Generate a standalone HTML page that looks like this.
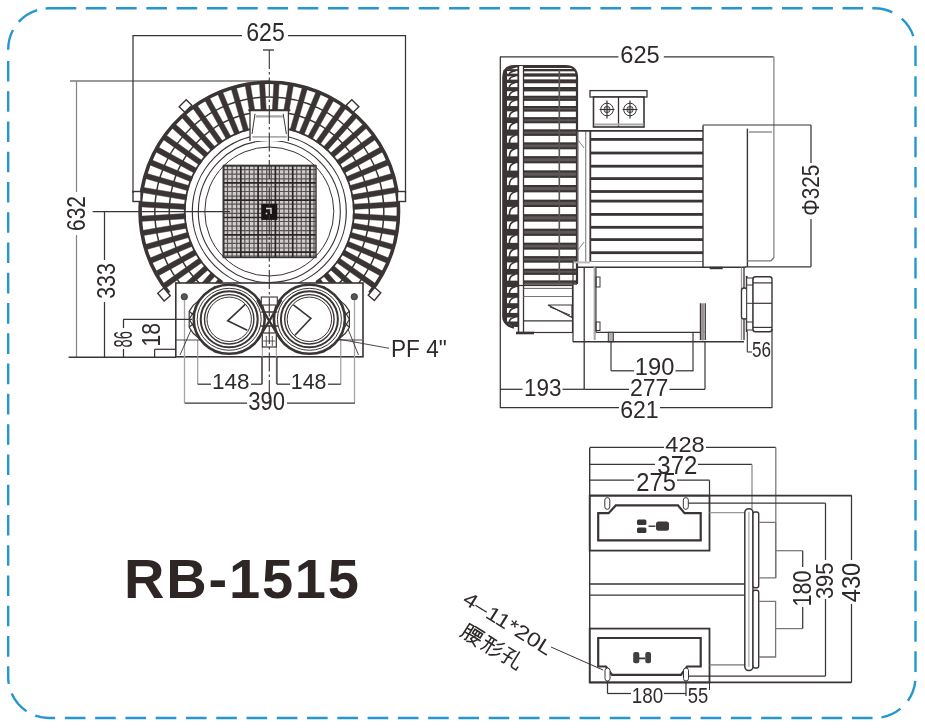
<!DOCTYPE html>
<html><head><meta charset="utf-8"><style>
html,body{margin:0;padding:0;background:#fff;}
svg{display:block;will-change:transform;}
text{font-family:"Liberation Sans",sans-serif;}
</style></head><body>
<svg width="925" height="728" viewBox="0 0 925 728">
<rect width="925" height="728" fill="#fff"/>
<path d="M8.20,49.80 A41.0,41.0 0 0 1 13.00,30.05 M18.73,21.87 A41.0,41.0 0 0 1 37.21,10.09 M45.63,8.46 A41.0,41.0 0 0 1 49.20,8.30 L76.3,8.3 M85.80,8.3 H106.40 M116.07,8.3 H136.67 M146.34,8.3 H166.94 M176.61,8.3 H197.21 M206.88,8.3 H227.48 M237.15,8.3 H257.75 M267.42,8.3 H288.02 M297.69,8.3 H318.29 M327.96,8.3 H348.56 M358.23,8.3 H378.83 M388.50,8.3 H409.10 M418.77,8.3 H439.37 M449.04,8.3 H469.64 M479.31,8.3 H499.91 M509.58,8.3 H530.18 M539.85,8.3 H560.45 M570.12,8.3 H590.72 M600.39,8.3 H620.99 M630.66,8.3 H651.26 M660.93,8.3 H681.53 M691.20,8.3 H711.80 M721.47,8.3 H742.07 M751.74,8.3 H772.34 M782.01,8.3 H802.61 M812.28,8.3 H832.88 M842.55,8.3 H863.15 M872.3,8.3 L874.50,8.30 A41.0,41.0 0 0 1 892.28,12.36 M901.77,18.69 A41.0,41.0 0 0 1 913.31,36.09 M915.34,45.73 A41.0,41.0 0 0 1 915.50,49.30 L915.5,66 M915.5,76.20 V96.80 M915.5,106.47 V127.07 M915.5,136.74 V157.34 M915.5,167.01 V187.61 M915.5,197.28 V217.88 M915.5,227.55 V248.15 M915.5,257.82 V278.42 M915.5,288.09 V308.69 M915.5,318.36 V338.96 M915.5,348.63 V369.23 M915.5,378.90 V399.50 M915.5,409.17 V429.77 M915.5,439.44 V460.04 M915.5,469.71 V490.31 M915.5,499.98 V520.58 M915.5,530.25 V550.85 M915.5,560.52 V581.12 M915.5,590.79 V611.39 M915.5,621.06 V641.66 M915.5,651.33 V671.93 M915.31,680.93 A41.0,41.0 0 0 1 907.92,700.75 M900.52,708.68 A41.0,41.0 0 0 1 881.48,717.40 M64.90,718.0 H85.50 M95.17,718.0 H115.77 M125.44,718.0 H146.04 M155.71,718.0 H176.31 M185.98,718.0 H206.58 M216.25,718.0 H236.85 M246.52,718.0 H267.12 M276.79,718.0 H297.39 M307.06,718.0 H327.66 M337.33,718.0 H357.93 M367.60,718.0 H388.20 M397.87,718.0 H418.47 M428.14,718.0 H448.74 M458.41,718.0 H479.01 M488.68,718.0 H509.28 M518.95,718.0 H539.55 M549.22,718.0 H569.82 M579.49,718.0 H600.09 M609.76,718.0 H630.36 M640.03,718.0 H660.63 M670.30,718.0 H690.90 M700.57,718.0 H721.17 M730.84,718.0 H751.44 M761.11,718.0 H781.71 M791.38,718.0 H811.98 M821.65,718.0 H842.25 M851.92,718.0 H872.52 M55.1,718.0 L49.20,718.00 A41.0,41.0 0 0 1 35.31,715.58 M26.51,711.15 A41.0,41.0 0 0 1 11.66,693.48 M8.2,60.90 V81.50 M8.2,91.17 V111.77 M8.2,121.44 V142.04 M8.2,151.71 V172.31 M8.2,181.98 V202.58 M8.2,212.25 V232.85 M8.2,242.52 V263.12 M8.2,272.79 V293.39 M8.2,303.06 V323.66 M8.2,333.33 V353.93 M8.2,363.60 V384.20 M8.2,393.87 V414.47 M8.2,424.14 V444.74 M8.2,454.41 V475.01 M8.2,484.68 V505.28 M8.2,514.95 V535.55 M8.2,545.22 V565.82 M8.2,575.49 V596.09 M8.2,605.76 V626.36 M8.2,636.03 V656.63 M8.2,666.30 V677.00 M8.20,677.00 A41.0,41.0 0 0 0 8.77,683.84" fill="none" stroke="#2596d0" stroke-width="2.4" stroke-linecap="butt"/>
<defs><clipPath id="ringclip"><path d="M0,0 H925 V290 H362.5 V400 H175.5 V290 H0 Z"/></clipPath></defs>
<g clip-path="url(#ringclip)">
<path d="M353.27,209.39 L399.22,206.81 L398.92,201.62 L352.98,204.20Z M352.51,200.00 L397.87,192.29 L397.00,187.17 L351.64,194.87Z M350.70,190.75 L394.91,178.02 L393.47,173.02 L349.26,185.76Z M347.86,181.77 L390.38,164.16 L388.39,159.36 L345.87,176.97Z M344.04,173.16 L384.31,150.90 L381.80,146.35 L341.53,168.61Z M339.28,165.04 L376.81,138.41 L373.80,134.17 L336.27,160.79Z M333.64,157.49 L367.95,126.83 L364.48,122.95 L330.17,153.62Z M327.18,150.63 L357.85,116.32 L353.97,112.85 L323.31,147.16Z M320.01,144.53 L346.63,107.00 L342.39,103.99 L315.76,141.52Z M312.19,139.27 L334.45,99.00 L329.90,96.49 L307.64,136.76Z M303.83,134.93 L321.44,92.41 L316.64,90.42 L299.03,132.94Z M295.04,131.54 L307.78,87.33 L302.78,85.89 L290.05,130.10Z M288.86,111.90 L293.63,83.80 L288.51,82.93 L283.73,111.03Z M277.58,110.34 L279.18,81.88 L273.99,81.58 L272.39,110.05Z M266.21,110.05 L264.61,81.58 L259.42,81.88 L261.02,110.34Z M254.87,111.03 L250.09,82.93 L244.97,83.80 L249.74,111.90Z M248.55,130.10 L235.82,85.89 L230.82,87.33 L243.56,131.54Z M239.57,132.94 L221.96,90.42 L217.16,92.41 L234.77,134.93Z M230.96,136.76 L208.70,96.49 L204.15,99.00 L226.41,139.27Z M222.84,141.52 L196.21,103.99 L191.97,107.00 L218.59,144.53Z M215.29,147.16 L184.63,112.85 L180.75,116.32 L211.42,150.63Z M208.43,153.62 L174.12,122.95 L170.65,126.83 L204.96,157.49Z M202.33,160.79 L164.80,134.17 L161.79,138.41 L199.32,165.04Z M197.07,168.61 L156.80,146.35 L154.29,150.90 L194.56,173.16Z M192.73,176.97 L150.21,159.36 L148.22,164.16 L190.74,181.77Z M189.34,185.76 L145.13,173.02 L143.69,178.02 L187.90,190.75Z M186.96,194.87 L141.60,187.17 L140.73,192.29 L186.09,200.00Z M185.62,204.20 L139.68,201.62 L139.38,206.81 L185.33,209.39Z M185.33,213.61 L139.38,216.19 L139.68,221.38 L185.62,218.80Z M186.09,223.00 L140.73,230.71 L141.60,235.83 L186.96,228.13Z M187.90,232.25 L143.69,244.98 L145.13,249.98 L189.34,237.24Z M190.74,241.23 L148.22,258.84 L150.21,263.64 L192.73,246.03Z M194.56,249.84 L154.29,272.10 L156.80,276.65 L197.07,254.39Z M199.32,257.96 L161.79,284.59 L164.80,288.83 L202.33,262.21Z M204.96,265.51 L170.65,296.17 L174.12,300.05 L208.43,269.38Z M211.42,272.37 L180.75,306.68 L184.63,310.15 L215.29,275.84Z M218.59,278.47 L191.97,316.00 L196.21,319.01 L222.84,281.48Z M315.76,281.48 L342.39,319.01 L346.63,316.00 L320.01,278.47Z M323.31,275.84 L353.97,310.15 L357.85,306.68 L327.18,272.37Z M330.17,269.38 L364.48,300.05 L367.95,296.17 L333.64,265.51Z M336.27,262.21 L373.80,288.83 L376.81,284.59 L339.28,257.96Z M341.53,254.39 L381.80,276.65 L384.31,272.10 L344.04,249.84Z M345.87,246.03 L388.39,263.64 L390.38,258.84 L347.86,241.23Z M349.26,237.24 L393.47,249.98 L394.91,244.98 L350.70,232.25Z M351.64,228.13 L397.00,235.83 L397.87,230.71 L352.51,223.00Z M352.98,218.80 L398.92,221.38 L399.22,216.19 L353.27,213.61Z" fill="#3a3434" stroke="#3a3434" stroke-width="0.5" />
<path d="M333.33,306.42 A114.5,114.5 0 1 0 205.27,306.42" fill="none" stroke="#3a3434" stroke-width="1.5" />
<path d="M325.22,294.40 A100,100 0 0 0 286.66,113.02" fill="none" stroke="#3a3434" stroke-width="1.5" />
<path d="M251.94,113.02 A100,100 0 0 0 213.38,294.40" fill="none" stroke="#3a3434" stroke-width="1.5" />
<path d="M316.55,281.55 A84.5,84.5 0 0 0 283.97,128.28" fill="none" stroke="#3a3434" stroke-width="1.8" />
<path d="M254.63,128.28 A84.5,84.5 0 0 0 222.05,281.55" fill="none" stroke="#3a3434" stroke-width="1.8" />
</g>
<path d="M369.71,292.81 A129.2,129.2 0 1 0 168.89,292.81" fill="none" stroke="#3a3434" stroke-width="3.6" />
<circle cx="269.30" cy="211.50" r="77.00" fill="none" stroke="#3a3434" stroke-width="1.2" />
<circle cx="269.30" cy="211.50" r="71.00" fill="none" stroke="#3a3434" stroke-width="1.1" />
<circle cx="269.30" cy="211.50" r="64.50" fill="none" stroke="#3a3434" stroke-width="1.0" />
<path d="M250.0,141 L250.0,110.3 L288.40000000000003,110.3 L288.40000000000003,141" fill="#fff" stroke="#3a3434" stroke-width="1.3" />
<line x1="248.30" y1="110.30" x2="290.30" y2="110.30" stroke="#3a3434" stroke-width="2.0" />
<path d="M255.0,113.8 L252.0,134 M283.2,113.8 L286.40000000000003,134" fill="none" stroke="#3a3434" stroke-width="1.0" />
<line x1="255.80" y1="116.40" x2="282.80" y2="116.40" stroke="#a8a3a3" stroke-width="2.2" />
<line x1="252.30" y1="136.90" x2="286.80" y2="136.90" stroke="#b0abab" stroke-width="1.8" />
<rect x="133.0" y="191.5" width="8" height="10" fill="#fff" stroke="#3a3434" stroke-width="1.4" transform="rotate(0 137 196.5)"/>
<rect x="397.5" y="191.5" width="8" height="10" fill="#fff" stroke="#3a3434" stroke-width="1.4" transform="rotate(0 401.5 196.5)"/>
<rect x="181.5" y="101.0" width="8" height="10" fill="#fff" stroke="#3a3434" stroke-width="1.4" transform="rotate(45 185.5 106)"/>
<rect x="348.5" y="101.0" width="8" height="10" fill="#fff" stroke="#3a3434" stroke-width="1.4" transform="rotate(-45 352.5 106)"/>
<rect x="160.0" y="289.5" width="8" height="10" fill="#fff" stroke="#3a3434" stroke-width="1.4" transform="rotate(-40 164 294.5)"/>
<rect x="370.5" y="289.0" width="8" height="10" fill="#fff" stroke="#3a3434" stroke-width="1.4" transform="rotate(40 374.5 294)"/>
<rect x="223.50" y="165.60" width="92.50" height="91.90" rx="0" fill="#d2cdcd" stroke="#3a3434" stroke-width="0" />
<path d="M227.50,165.6 V257.5 M232.10,165.6 V257.5 M236.70,165.6 V257.5 M244.80,165.6 V257.5 M249.40,165.6 V257.5 M254.00,165.6 V257.5 M262.10,165.6 V257.5 M266.70,165.6 V257.5 M271.30,165.6 V257.5 M279.40,165.6 V257.5 M284.00,165.6 V257.5 M288.60,165.6 V257.5 M296.70,165.6 V257.5 M301.30,165.6 V257.5 M305.90,165.6 V257.5 M314.00,165.6 V257.5 M223.5,169.60 H316 M223.5,174.20 H316 M223.5,178.80 H316 M223.5,186.90 H316 M223.5,191.50 H316 M223.5,196.10 H316 M223.5,204.20 H316 M223.5,208.80 H316 M223.5,213.40 H316 M223.5,221.50 H316 M223.5,226.10 H316 M223.5,230.70 H316 M223.5,238.80 H316 M223.5,243.40 H316 M223.5,248.00 H316 M223.5,256.10 H316" fill="none" stroke="#3a3434" stroke-width="1.2" opacity="0.8"/>
<path d="M223.50,165.6 V257.5 M223.5,165.60 H316 M240.80,165.6 V257.5 M223.5,182.90 H316 M258.10,165.6 V257.5 M223.5,200.20 H316 M275.40,165.6 V257.5 M223.5,217.50 H316 M292.70,165.6 V257.5 M223.5,234.80 H316 M310.00,165.6 V257.5 M223.5,252.10 H316" fill="none" stroke="#2a2424" stroke-width="1.7" />
<rect x="223.50" y="165.60" width="92.50" height="91.90" rx="0" fill="none" stroke="#3a3434" stroke-width="1.4" />
<rect x="261.30" y="203.90" width="16.00" height="16.00" rx="0" fill="#1a1414" stroke="#3a3434" stroke-width="0" />
<path d="M266,208.5 H271 V214" fill="none" stroke="#ddd" stroke-width="1.4" />
<circle cx="266.50" cy="213.50" r="0.90" fill="#ddd" stroke="#3a3434" stroke-width="0" />
<rect x="175.80" y="283.00" width="187.20" height="73.80" rx="0" fill="#fff" stroke="#3a3434" stroke-width="1.6" />
<circle cx="184.30" cy="296.80" r="3.20" fill="#555" stroke="#3a3434" stroke-width="0.8" />
<circle cx="354.30" cy="296.80" r="3.20" fill="#555" stroke="#3a3434" stroke-width="0.8" />
<line x1="197.70" y1="340.00" x2="197.70" y2="384.20" stroke="#9a9595" stroke-width="1.1" />
<line x1="340.80" y1="340.00" x2="340.80" y2="384.20" stroke="#9a9595" stroke-width="1.1" />
<line x1="184.50" y1="300.00" x2="184.50" y2="403.00" stroke="#a8a4a4" stroke-width="1.3" />
<line x1="354.50" y1="300.00" x2="354.50" y2="403.00" stroke="#a8a4a4" stroke-width="1.3" />
<line x1="262.30" y1="347.00" x2="262.30" y2="384.00" stroke="#9a9595" stroke-width="1.0" />
<line x1="276.30" y1="347.00" x2="276.30" y2="384.00" stroke="#9a9595" stroke-width="1.0" />
<path d="M180,355 L191,330 M358.5,355 L348,329" fill="none" stroke="#3a3434" stroke-width="0.9" />
<line x1="337.00" y1="340.00" x2="362.00" y2="340.00" stroke="#3a3434" stroke-width="0.9" />
<line x1="176.00" y1="340.00" x2="201.00" y2="340.00" stroke="#3a3434" stroke-width="0.9" />
<path d="M215.2,286.3 L193.2,305.3 L189.2,311.3 L189.2,327.3 L193.2,333.3 L215.2,352.3" fill="#fff" stroke="#3a3434" stroke-width="1.2" />
<path d="M189.2,319.3 L201.2,299.3 M189.2,319.3 L201.2,339.3 M189.2,311.3 L198.2,319.3 L189.2,327.3" fill="none" stroke="#3a3434" stroke-width="1.2" />
<path d="M323.4,286.3 L345.4,305.3 L349.4,311.3 L349.4,327.3 L345.4,333.3 L323.4,352.3" fill="#fff" stroke="#3a3434" stroke-width="1.2" />
<path d="M349.4,319.3 L337.4,299.3 M349.4,319.3 L337.4,339.3 M349.4,311.3 L340.4,319.3 L349.4,327.3" fill="none" stroke="#3a3434" stroke-width="1.2" />
<ellipse cx="229.2" cy="319.3" rx="35.5" ry="34.5" fill="#fff" stroke="#3a3434" stroke-width="2.6"/>
<ellipse cx="309.4" cy="319.3" rx="35.5" ry="34.5" fill="#fff" stroke="#3a3434" stroke-width="2.6"/>
<ellipse cx="229.2" cy="319.3" rx="32" ry="31" fill="#fff" stroke="#3a3434" stroke-width="1.0"/>
<ellipse cx="229.2" cy="319.3" rx="28.5" ry="28" fill="none" stroke="#3a3434" stroke-width="2.0"/>
<circle cx="229.20" cy="319.30" r="24.70" fill="#fff" stroke="#3a3434" stroke-width="1.4" />
<circle cx="229.20" cy="319.30" r="22.20" fill="none" stroke="#3a3434" stroke-width="1.0" />
<path d="M245.2,304.3 L227.7,320.8 L247.2,330.3" fill="none" stroke="#3a3434" stroke-width="1.6" />
<ellipse cx="309.4" cy="319.3" rx="32" ry="31" fill="#fff" stroke="#3a3434" stroke-width="1.0"/>
<ellipse cx="309.4" cy="319.3" rx="28.5" ry="28" fill="none" stroke="#3a3434" stroke-width="2.0"/>
<circle cx="309.40" cy="319.30" r="24.70" fill="#fff" stroke="#3a3434" stroke-width="1.4" />
<circle cx="309.40" cy="319.30" r="22.20" fill="none" stroke="#3a3434" stroke-width="1.0" />
<path d="M293.4,304.8 L310.9,318.3 L294.9,335.3" fill="none" stroke="#3a3434" stroke-width="1.6" />
<rect x="261.3" y="297" width="16" height="8" fill="#fff" stroke="#3a3434" stroke-width="1.1"/>
<path d="M257.3,300 Q269.3,322 281.3,340 M281.3,300 Q269.3,322 257.3,340" fill="none" stroke="#3a3434" stroke-width="2.4" />
<path d="M261.3,312 H277.3 M260.3,326 H278.3" fill="none" stroke="#3a3434" stroke-width="1.6" />
<rect x="262.30" y="333.00" width="14.00" height="14.00" rx="0" fill="#fff" stroke="#3a3434" stroke-width="1.2" />
<path d="M266.3,336 V346 M272.3,336 V346 M263.3,341 H275.3" fill="none" stroke="#3a3434" stroke-width="0.8" />
<line x1="133.00" y1="35.50" x2="242.00" y2="35.50" stroke="#3a3434" stroke-width="1.25" />
<line x1="288.00" y1="35.50" x2="405.50" y2="35.50" stroke="#3a3434" stroke-width="1.25" />
<line x1="133.00" y1="35.00" x2="133.00" y2="193.00" stroke="#3a3434" stroke-width="1.25" />
<line x1="405.50" y1="35.00" x2="405.50" y2="193.00" stroke="#3a3434" stroke-width="1.25" />
<text x="265.5" y="40.6" font-size="25" text-anchor="middle" font-weight="normal" fill="#2f2a2a" textLength="38.5" lengthAdjust="spacingAndGlyphs"  >625</text>
<line x1="269.30" y1="50.00" x2="269.30" y2="405.00" stroke="#3a3434" stroke-width="1.1" stroke-dasharray="19 3 2.5 3"/>
<line x1="263.00" y1="50.00" x2="274.00" y2="50.00" stroke="#3a3434" stroke-width="1.3" />
<line x1="70.00" y1="81.00" x2="269.30" y2="81.00" stroke="#3a3434" stroke-width="1.1" />
<line x1="76.50" y1="81.00" x2="76.50" y2="192.00" stroke="#8a8585" stroke-width="1.25" />
<line x1="76.50" y1="235.00" x2="76.50" y2="357.50" stroke="#8a8585" stroke-width="1.25" />
<text x="85.3" y="213.5" font-size="25" text-anchor="middle" font-weight="normal" fill="#2f2a2a" textLength="35" lengthAdjust="spacingAndGlyphs" transform="rotate(-90 85.3 213.5)" >632</text>
<line x1="92.60" y1="211.60" x2="230.00" y2="211.60" stroke="#3a3434" stroke-width="1.25" />
<line x1="104.50" y1="211.60" x2="104.50" y2="260.00" stroke="#3a3434" stroke-width="1.25" />
<line x1="104.50" y1="302.00" x2="104.50" y2="357.50" stroke="#3a3434" stroke-width="1.25" />
<text x="115.3" y="281" font-size="25" text-anchor="middle" font-weight="normal" fill="#2f2a2a" textLength="35.5" lengthAdjust="spacingAndGlyphs" transform="rotate(-90 115.3 281)" >333</text>
<line x1="68.60" y1="357.30" x2="176.00" y2="357.30" stroke="#3a3434" stroke-width="1.4" />
<line x1="123.20" y1="319.40" x2="192.00" y2="319.40" stroke="#3a3434" stroke-width="1.25" />
<line x1="123.50" y1="319.40" x2="123.50" y2="328.00" stroke="#3a3434" stroke-width="1.25" />
<line x1="123.50" y1="349.00" x2="123.50" y2="357.30" stroke="#3a3434" stroke-width="1.25" />
<text x="132" y="339.3" font-size="25" text-anchor="middle" font-weight="normal" fill="#2f2a2a" textLength="16.5" lengthAdjust="spacingAndGlyphs" transform="rotate(-90 132 339.3)" >86</text>
<line x1="154.60" y1="349.30" x2="175.50" y2="349.30" stroke="#3a3434" stroke-width="1.25" />
<line x1="154.60" y1="349.30" x2="154.60" y2="357.30" stroke="#3a3434" stroke-width="1.25" />
<text x="160" y="334.8" font-size="25" text-anchor="middle" font-weight="normal" fill="#2f2a2a" textLength="23.5" lengthAdjust="spacingAndGlyphs" transform="rotate(-90 160 334.8)" >18</text>
<line x1="197.70" y1="384.20" x2="211.00" y2="384.20" stroke="#3a3434" stroke-width="1.25" />
<line x1="251.00" y1="384.20" x2="261.90" y2="384.20" stroke="#3a3434" stroke-width="1.25" />
<line x1="261.90" y1="357.00" x2="261.90" y2="384.20" stroke="#3a3434" stroke-width="1.25" />
<text x="230.8" y="389" font-size="22.5" text-anchor="middle" font-weight="normal" fill="#2f2a2a" textLength="37.5" lengthAdjust="spacingAndGlyphs"  >148</text>
<line x1="277.00" y1="384.20" x2="290.00" y2="384.20" stroke="#3a3434" stroke-width="1.25" />
<line x1="328.00" y1="384.20" x2="340.80" y2="384.20" stroke="#3a3434" stroke-width="1.25" />
<line x1="277.00" y1="357.00" x2="277.00" y2="384.20" stroke="#3a3434" stroke-width="1.25" />
<text x="308.6" y="389" font-size="22.5" text-anchor="middle" font-weight="normal" fill="#2f2a2a" textLength="35.5" lengthAdjust="spacingAndGlyphs"  >148</text>
<line x1="184.70" y1="403.00" x2="247.00" y2="403.00" stroke="#3a3434" stroke-width="1.25" />
<line x1="287.00" y1="403.00" x2="354.90" y2="403.00" stroke="#3a3434" stroke-width="1.25" />
<text x="266.6" y="410.2" font-size="25" text-anchor="middle" font-weight="normal" fill="#2f2a2a" textLength="36.8" lengthAdjust="spacingAndGlyphs"  >390</text>
<line x1="338.00" y1="339.00" x2="389.00" y2="348.30" stroke="#3a3434" stroke-width="0.9" />
<text x="391" y="356.5" font-size="23" text-anchor="start" font-weight="normal" fill="#2f2a2a" textLength="55.8" lengthAdjust="spacingAndGlyphs"  >PF 4"</text>
<line x1="500.00" y1="56.80" x2="618.40" y2="56.80" stroke="#3a3434" stroke-width="1.25" />
<line x1="663.80" y1="56.80" x2="773.60" y2="56.80" stroke="#3a3434" stroke-width="1.25" />
<text x="640" y="63.4" font-size="24" text-anchor="middle" font-weight="normal" fill="#2f2a2a" textLength="39.5" lengthAdjust="spacingAndGlyphs"  >625</text>
<line x1="500.30" y1="56.80" x2="500.30" y2="408.00" stroke="#3a3434" stroke-width="1.25" />
<defs><clipPath id="hc"><path d="M503.3,326 L503.3,77.5 Q503.3,66 515.3,66 L565.3,66 Q577,66 577,77.5 L577,284.5 L518,284.5 L518,328 Q508,326 503.3,318 Z"/></clipPath></defs>
<g clip-path="url(#hc)">
<rect x="503.00" y="65.00" width="75.00" height="265.00" rx="0" fill="#fff" stroke="#3a3434" stroke-width="0" />
<rect x="524.00" y="280.66" width="53.00" height="5.26" rx="0" fill="#5e5858" stroke="#3a3434" stroke-width="0" />
<line x1="524.00" y1="281.56" x2="577.00" y2="281.56" stroke="#3a3434" stroke-width="2.0" />
<line x1="524.00" y1="285.02" x2="577.00" y2="285.02" stroke="#3a3434" stroke-width="2.0" />
<rect x="524.00" y="268.93" width="53.00" height="5.75" rx="0" fill="#5e5858" stroke="#3a3434" stroke-width="0" />
<line x1="524.00" y1="269.83" x2="577.00" y2="269.83" stroke="#3a3434" stroke-width="2.0" />
<line x1="524.00" y1="273.78" x2="577.00" y2="273.78" stroke="#3a3434" stroke-width="2.0" />
<rect x="524.00" y="256.28" width="53.00" height="6.17" rx="0" fill="#5e5858" stroke="#3a3434" stroke-width="0" />
<line x1="524.00" y1="257.18" x2="577.00" y2="257.18" stroke="#3a3434" stroke-width="2.0" />
<line x1="524.00" y1="261.55" x2="577.00" y2="261.55" stroke="#3a3434" stroke-width="2.0" />
<rect x="524.00" y="242.87" width="53.00" height="6.51" rx="0" fill="#5e5858" stroke="#3a3434" stroke-width="0" />
<line x1="524.00" y1="243.77" x2="577.00" y2="243.77" stroke="#3a3434" stroke-width="2.0" />
<line x1="524.00" y1="248.49" x2="577.00" y2="248.49" stroke="#3a3434" stroke-width="2.0" />
<rect x="524.00" y="228.88" width="53.00" height="6.78" rx="0" fill="#5e5858" stroke="#3a3434" stroke-width="0" />
<line x1="524.00" y1="229.78" x2="577.00" y2="229.78" stroke="#3a3434" stroke-width="2.0" />
<line x1="524.00" y1="234.75" x2="577.00" y2="234.75" stroke="#3a3434" stroke-width="2.0" />
<rect x="524.00" y="214.47" width="53.00" height="6.95" rx="0" fill="#5e5858" stroke="#3a3434" stroke-width="0" />
<line x1="524.00" y1="215.37" x2="577.00" y2="215.37" stroke="#3a3434" stroke-width="2.0" />
<line x1="524.00" y1="220.52" x2="577.00" y2="220.52" stroke="#3a3434" stroke-width="2.0" />
<rect x="524.00" y="199.83" width="53.00" height="7.04" rx="0" fill="#5e5858" stroke="#3a3434" stroke-width="0" />
<line x1="524.00" y1="200.73" x2="577.00" y2="200.73" stroke="#3a3434" stroke-width="2.0" />
<line x1="524.00" y1="205.97" x2="577.00" y2="205.97" stroke="#3a3434" stroke-width="2.0" />
<rect x="524.00" y="185.13" width="53.00" height="7.04" rx="0" fill="#5e5858" stroke="#3a3434" stroke-width="0" />
<line x1="524.00" y1="186.03" x2="577.00" y2="186.03" stroke="#3a3434" stroke-width="2.0" />
<line x1="524.00" y1="191.27" x2="577.00" y2="191.27" stroke="#3a3434" stroke-width="2.0" />
<rect x="524.00" y="170.58" width="53.00" height="6.95" rx="0" fill="#5e5858" stroke="#3a3434" stroke-width="0" />
<line x1="524.00" y1="171.48" x2="577.00" y2="171.48" stroke="#3a3434" stroke-width="2.0" />
<line x1="524.00" y1="176.63" x2="577.00" y2="176.63" stroke="#3a3434" stroke-width="2.0" />
<rect x="524.00" y="156.35" width="53.00" height="6.78" rx="0" fill="#5e5858" stroke="#3a3434" stroke-width="0" />
<line x1="524.00" y1="157.25" x2="577.00" y2="157.25" stroke="#3a3434" stroke-width="2.0" />
<line x1="524.00" y1="162.22" x2="577.00" y2="162.22" stroke="#3a3434" stroke-width="2.0" />
<rect x="524.00" y="142.61" width="53.00" height="6.51" rx="0" fill="#5e5858" stroke="#3a3434" stroke-width="0" />
<line x1="524.00" y1="143.51" x2="577.00" y2="143.51" stroke="#3a3434" stroke-width="2.0" />
<line x1="524.00" y1="148.23" x2="577.00" y2="148.23" stroke="#3a3434" stroke-width="2.0" />
<rect x="524.00" y="129.55" width="53.00" height="6.17" rx="0" fill="#5e5858" stroke="#3a3434" stroke-width="0" />
<line x1="524.00" y1="130.45" x2="577.00" y2="130.45" stroke="#3a3434" stroke-width="2.0" />
<line x1="524.00" y1="134.82" x2="577.00" y2="134.82" stroke="#3a3434" stroke-width="2.0" />
<rect x="524.00" y="117.32" width="53.00" height="5.75" rx="0" fill="#5e5858" stroke="#3a3434" stroke-width="0" />
<line x1="524.00" y1="118.22" x2="577.00" y2="118.22" stroke="#3a3434" stroke-width="2.0" />
<line x1="524.00" y1="122.17" x2="577.00" y2="122.17" stroke="#3a3434" stroke-width="2.0" />
<rect x="524.00" y="106.08" width="53.00" height="5.26" rx="0" fill="#5e5858" stroke="#3a3434" stroke-width="0" />
<line x1="524.00" y1="106.98" x2="577.00" y2="106.98" stroke="#3a3434" stroke-width="2.0" />
<line x1="524.00" y1="110.44" x2="577.00" y2="110.44" stroke="#3a3434" stroke-width="2.0" />
<rect x="524.00" y="95.97" width="53.00" height="4.70" rx="0" fill="#5e5858" stroke="#3a3434" stroke-width="0" />
<line x1="524.00" y1="96.87" x2="577.00" y2="96.87" stroke="#3a3434" stroke-width="2.0" />
<line x1="524.00" y1="99.77" x2="577.00" y2="99.77" stroke="#3a3434" stroke-width="2.0" />
<rect x="524.00" y="87.12" width="53.00" height="4.08" rx="0" fill="#5e5858" stroke="#3a3434" stroke-width="0" />
<line x1="524.00" y1="88.02" x2="577.00" y2="88.02" stroke="#3a3434" stroke-width="2.0" />
<line x1="524.00" y1="90.30" x2="577.00" y2="90.30" stroke="#3a3434" stroke-width="2.0" />
<rect x="524.00" y="79.64" width="53.00" height="3.41" rx="0" fill="#5e5858" stroke="#3a3434" stroke-width="0" />
<line x1="524.00" y1="80.54" x2="577.00" y2="80.54" stroke="#3a3434" stroke-width="2.0" />
<line x1="524.00" y1="82.15" x2="577.00" y2="82.15" stroke="#3a3434" stroke-width="2.0" />
<rect x="524.00" y="73.62" width="53.00" height="2.70" rx="0" fill="#5e5858" stroke="#3a3434" stroke-width="0" />
<line x1="524.00" y1="74.52" x2="577.00" y2="74.52" stroke="#3a3434" stroke-width="2.0" />
<line x1="524.00" y1="75.42" x2="577.00" y2="75.42" stroke="#3a3434" stroke-width="2.0" />
<rect x="524.00" y="69.12" width="53.00" height="2.00" rx="0" fill="#5e5858" stroke="#3a3434" stroke-width="0" />
<line x1="524.00" y1="70.02" x2="577.00" y2="70.02" stroke="#3a3434" stroke-width="2.0" />
<line x1="524.00" y1="70.22" x2="577.00" y2="70.22" stroke="#3a3434" stroke-width="2.0" />
<rect x="524.00" y="65.85" width="53.00" height="2.00" rx="0" fill="#5e5858" stroke="#3a3434" stroke-width="0" />
<line x1="524.00" y1="66.75" x2="577.00" y2="66.75" stroke="#3a3434" stroke-width="2.0" />
<line x1="524.00" y1="66.95" x2="577.00" y2="66.95" stroke="#3a3434" stroke-width="2.0" />
<rect x="524.00" y="64.21" width="53.00" height="2.00" rx="0" fill="#5e5858" stroke="#3a3434" stroke-width="0" />
<line x1="524.00" y1="65.11" x2="577.00" y2="65.11" stroke="#3a3434" stroke-width="2.0" />
<line x1="524.00" y1="65.31" x2="577.00" y2="65.31" stroke="#3a3434" stroke-width="2.0" />
<rect x="503.00" y="65.00" width="15.50" height="262.00" rx="0" fill="#3a3434" stroke="#3a3434" stroke-width="0" />
<rect x="507.00" y="274.69" width="10.50" height="5.97" rx="0" fill="#fff" stroke="#3a3434" stroke-width="0" />
<path d="M515.5,274.2 Q509,275.7 509.5,281.2" fill="none" stroke="#3a3434" stroke-width="1.6" />
<rect x="507.00" y="262.46" width="10.50" height="6.47" rx="0" fill="#fff" stroke="#3a3434" stroke-width="0" />
<path d="M515.5,262.0 Q509,263.5 509.5,269.4" fill="none" stroke="#3a3434" stroke-width="1.6" />
<rect x="507.00" y="249.40" width="10.50" height="6.88" rx="0" fill="#fff" stroke="#3a3434" stroke-width="0" />
<path d="M515.5,248.9 Q509,250.4 509.5,256.8" fill="none" stroke="#3a3434" stroke-width="1.6" />
<rect x="507.00" y="235.66" width="10.50" height="7.21" rx="0" fill="#fff" stroke="#3a3434" stroke-width="0" />
<path d="M515.5,235.2 Q509,236.7 509.5,243.4" fill="none" stroke="#3a3434" stroke-width="1.6" />
<rect x="507.00" y="221.43" width="10.50" height="7.45" rx="0" fill="#fff" stroke="#3a3434" stroke-width="0" />
<path d="M515.5,220.9 Q509,222.4 509.5,229.4" fill="none" stroke="#3a3434" stroke-width="1.6" />
<rect x="507.00" y="206.87" width="10.50" height="7.59" rx="0" fill="#fff" stroke="#3a3434" stroke-width="0" />
<path d="M515.5,206.4 Q509,207.9 509.5,215.0" fill="none" stroke="#3a3434" stroke-width="1.6" />
<rect x="507.00" y="192.18" width="10.50" height="7.64" rx="0" fill="#fff" stroke="#3a3434" stroke-width="0" />
<path d="M515.5,191.7 Q509,193.2 509.5,200.3" fill="none" stroke="#3a3434" stroke-width="1.6" />
<rect x="507.00" y="177.54" width="10.50" height="7.59" rx="0" fill="#fff" stroke="#3a3434" stroke-width="0" />
<path d="M515.5,177.0 Q509,178.5 509.5,185.6" fill="none" stroke="#3a3434" stroke-width="1.6" />
<rect x="507.00" y="163.13" width="10.50" height="7.45" rx="0" fill="#fff" stroke="#3a3434" stroke-width="0" />
<path d="M515.5,162.6 Q509,164.1 509.5,171.1" fill="none" stroke="#3a3434" stroke-width="1.6" />
<rect x="507.00" y="149.13" width="10.50" height="7.21" rx="0" fill="#fff" stroke="#3a3434" stroke-width="0" />
<path d="M515.5,148.6 Q509,150.1 509.5,156.8" fill="none" stroke="#3a3434" stroke-width="1.6" />
<rect x="507.00" y="135.72" width="10.50" height="6.88" rx="0" fill="#fff" stroke="#3a3434" stroke-width="0" />
<path d="M515.5,135.2 Q509,136.7 509.5,143.1" fill="none" stroke="#3a3434" stroke-width="1.6" />
<rect x="507.00" y="123.07" width="10.50" height="6.47" rx="0" fill="#fff" stroke="#3a3434" stroke-width="0" />
<path d="M515.5,122.6 Q509,124.1 509.5,130.0" fill="none" stroke="#3a3434" stroke-width="1.6" />
<rect x="507.00" y="111.34" width="10.50" height="5.97" rx="0" fill="#fff" stroke="#3a3434" stroke-width="0" />
<path d="M515.5,110.8 Q509,112.3 509.5,117.8" fill="none" stroke="#3a3434" stroke-width="1.6" />
<rect x="507.00" y="100.67" width="10.50" height="5.40" rx="0" fill="#fff" stroke="#3a3434" stroke-width="0" />
<path d="M515.5,100.2 Q509,101.7 509.5,106.6" fill="none" stroke="#3a3434" stroke-width="1.6" />
<rect x="507.00" y="91.20" width="10.50" height="4.76" rx="0" fill="#fff" stroke="#3a3434" stroke-width="0" />
<path d="M515.5,90.7 Q509,92.2 509.5,96.5" fill="none" stroke="#3a3434" stroke-width="1.6" />
<rect x="507.00" y="83.05" width="10.50" height="4.06" rx="0" fill="#fff" stroke="#3a3434" stroke-width="0" />
<path d="M515.5,82.5 Q509,84.0 509.5,87.6" fill="none" stroke="#3a3434" stroke-width="1.6" />
<rect x="507.00" y="76.32" width="10.50" height="3.31" rx="0" fill="#fff" stroke="#3a3434" stroke-width="0" />
<path d="M515.5,75.8 Q509,77.3 509.5,80.1" fill="none" stroke="#3a3434" stroke-width="1.6" />
<rect x="507.00" y="71.09" width="10.50" height="2.52" rx="0" fill="#fff" stroke="#3a3434" stroke-width="0" />
<path d="M515.5,70.6 Q509,72.1 509.5,74.1" fill="none" stroke="#3a3434" stroke-width="1.6" />
<rect x="507.00" y="67.43" width="10.50" height="1.70" rx="0" fill="#fff" stroke="#3a3434" stroke-width="0" />
<path d="M515.5,66.9 Q509,68.4 509.5,69.6" fill="none" stroke="#3a3434" stroke-width="1.6" />
<rect x="507.00" y="287.10" width="10.50" height="5.80" rx="0" fill="#fff" stroke="#3a3434" stroke-width="0" />
<path d="M515.5,286.6 Q509,288.1 509.5,293.4" fill="none" stroke="#3a3434" stroke-width="1.6" />
<rect x="507.00" y="297.80" width="10.50" height="5.40" rx="0" fill="#fff" stroke="#3a3434" stroke-width="0" />
<path d="M515.5,297.3 Q509,298.8 509.5,303.7" fill="none" stroke="#3a3434" stroke-width="1.6" />
<rect x="507.00" y="308.10" width="10.50" height="4.80" rx="0" fill="#fff" stroke="#3a3434" stroke-width="0" />
<path d="M515.5,307.6 Q509,309.1 509.5,313.4" fill="none" stroke="#3a3434" stroke-width="1.6" />
<rect x="507.00" y="317.50" width="10.50" height="4.00" rx="0" fill="#fff" stroke="#3a3434" stroke-width="0" />
<path d="M515.5,317.0 Q509,318.5 509.5,322.0" fill="none" stroke="#3a3434" stroke-width="1.6" />
</g>
<path d="M503.3,318 L503.3,77.5 Q503.3,66 515.3,66 L565.3,66 Q577,66 577,77.5 L577,284" fill="none" stroke="#3a3434" stroke-width="2.2" />
<path d="M503.3,318 Q506,326 514,327.5" fill="none" stroke="#3a3434" stroke-width="2.6" />
<line x1="504.50" y1="70.00" x2="504.50" y2="318.00" stroke="#3a3434" stroke-width="2.0" />
<rect x="519.20" y="66.00" width="4.50" height="218.00" rx="0" fill="#fff" stroke="#3a3434" stroke-width="0" />
<line x1="559.30" y1="70.00" x2="559.30" y2="282.00" stroke="#5a5454" stroke-width="1.6" />
<rect x="518.50" y="285.50" width="54.00" height="47.00" rx="0" fill="#fff" stroke="#3a3434" stroke-width="1.2" />
<line x1="518.50" y1="66.00" x2="518.50" y2="333.00" stroke="#3a3434" stroke-width="1.3" />
<line x1="523.50" y1="66.00" x2="523.50" y2="333.00" stroke="#3a3434" stroke-width="1.3" />
<line x1="523.50" y1="288.40" x2="572.00" y2="288.40" stroke="#666" stroke-width="1.0" />
<line x1="523.50" y1="296.50" x2="572.00" y2="296.50" stroke="#777" stroke-width="1.0" />
<line x1="523.50" y1="320.80" x2="572.00" y2="320.80" stroke="#3a3434" stroke-width="1.2" />
<line x1="516.00" y1="333.00" x2="534.00" y2="333.00" stroke="#3a3434" stroke-width="2.6" />
<path d="M548,305 L572,305 L572,317.6 Z" fill="#fff" stroke="#3a3434" stroke-width="1.2" />
<path d="M550,307 L570,315" fill="none" stroke="#3a3434" stroke-width="1.0" />
<line x1="578.00" y1="131.00" x2="578.00" y2="262.00" stroke="#888" stroke-width="1.2" />
<line x1="585.70" y1="131.00" x2="585.70" y2="262.00" stroke="#888" stroke-width="1.2" />
<path d="M578,140 l6,8 M578,250 l6,-8" fill="none" stroke="#888" stroke-width="1.0" />
<rect x="590.00" y="90.60" width="57.00" height="6.40" rx="0" fill="#fff" stroke="#3a3434" stroke-width="1.3" />
<rect x="593.50" y="97.00" width="50.50" height="30.00" rx="0" fill="#fff" stroke="#3a3434" stroke-width="1.6" />
<line x1="618.50" y1="97.00" x2="618.50" y2="127.00" stroke="#3a3434" stroke-width="1.3" />
<line x1="594.00" y1="124.50" x2="643.50" y2="124.50" stroke="#aaa" stroke-width="2" />
<circle cx="607.00" cy="109.50" r="6.30" fill="none" stroke="#3a3434" stroke-width="1.0" />
<circle cx="607.00" cy="109.50" r="3.20" fill="#bbb" stroke="#3a3434" stroke-width="0.8" />
<line x1="607.00" y1="100.50" x2="607.00" y2="118.50" stroke="#3a3434" stroke-width="1.2" />
<line x1="599.50" y1="109.50" x2="614.50" y2="109.50" stroke="#3a3434" stroke-width="1.0" />
<circle cx="630.00" cy="109.50" r="6.30" fill="none" stroke="#3a3434" stroke-width="1.0" />
<circle cx="630.00" cy="109.50" r="3.20" fill="#bbb" stroke="#3a3434" stroke-width="0.8" />
<line x1="630.00" y1="100.50" x2="630.00" y2="118.50" stroke="#3a3434" stroke-width="1.2" />
<line x1="622.50" y1="109.50" x2="637.50" y2="109.50" stroke="#3a3434" stroke-width="1.0" />
<line x1="577.50" y1="130.90" x2="703.00" y2="130.90" stroke="#3a3434" stroke-width="1.6" />
<line x1="590.30" y1="130.80" x2="590.30" y2="262.00" stroke="#3a3434" stroke-width="1.8" />
<rect x="590.50" y="138.00" width="112.50" height="2.80" rx="0" fill="#3a3434" stroke="#3a3434" stroke-width="0" />
<rect x="590.50" y="151.60" width="112.50" height="2.80" rx="0" fill="#3a3434" stroke="#3a3434" stroke-width="0" />
<rect x="590.50" y="164.80" width="112.50" height="2.80" rx="0" fill="#3a3434" stroke="#3a3434" stroke-width="0" />
<rect x="590.50" y="177.20" width="112.50" height="2.80" rx="0" fill="#3a3434" stroke="#3a3434" stroke-width="0" />
<rect x="590.50" y="190.10" width="112.50" height="2.80" rx="0" fill="#3a3434" stroke="#3a3434" stroke-width="0" />
<rect x="590.50" y="199.70" width="112.50" height="2.80" rx="0" fill="#3a3434" stroke="#3a3434" stroke-width="0" />
<rect x="590.50" y="213.00" width="112.50" height="2.80" rx="0" fill="#3a3434" stroke="#3a3434" stroke-width="0" />
<rect x="590.50" y="225.90" width="112.50" height="2.80" rx="0" fill="#3a3434" stroke="#3a3434" stroke-width="0" />
<rect x="590.50" y="238.20" width="112.50" height="2.80" rx="0" fill="#3a3434" stroke="#3a3434" stroke-width="0" />
<rect x="590.50" y="251.30" width="112.50" height="2.80" rx="0" fill="#3a3434" stroke="#3a3434" stroke-width="0" />
<line x1="590.00" y1="261.50" x2="703.00" y2="261.50" stroke="#888" stroke-width="1.0" />
<line x1="703.00" y1="125.20" x2="703.00" y2="267.00" stroke="#3a3434" stroke-width="1.4" />
<line x1="747.40" y1="128.60" x2="747.40" y2="267.00" stroke="#3a3434" stroke-width="1.4" />
<line x1="749.00" y1="132.00" x2="772.00" y2="132.00" stroke="#b0acac" stroke-width="2.0" />
<path d="M747.4,260.8 H771 L774,257.5" fill="none" stroke="#777" stroke-width="1.3" />
<line x1="773.90" y1="56.80" x2="773.90" y2="258.00" stroke="#8a8585" stroke-width="1.3" />
<line x1="703.00" y1="125.00" x2="811.00" y2="125.00" stroke="#3a3434" stroke-width="1.1" />
<line x1="745.00" y1="266.80" x2="811.00" y2="266.80" stroke="#3a3434" stroke-width="1.25" />
<line x1="811.00" y1="125.00" x2="811.00" y2="163.00" stroke="#3a3434" stroke-width="1.25" />
<line x1="811.00" y1="219.00" x2="811.00" y2="266.80" stroke="#3a3434" stroke-width="1.25" />
<text x="818.8" y="190.2" font-size="24" text-anchor="middle" font-weight="normal" fill="#2f2a2a" textLength="51" lengthAdjust="spacingAndGlyphs" transform="rotate(-90 818.8 190.2)" >Φ325</text>
<line x1="573.00" y1="262.40" x2="590.00" y2="262.40" stroke="#bbb" stroke-width="2" />
<line x1="577.00" y1="267.20" x2="745.50" y2="267.20" stroke="#3a3434" stroke-width="1.4" />
<line x1="573.00" y1="262.00" x2="573.00" y2="342.00" stroke="#3a3434" stroke-width="1.2" />
<line x1="584.20" y1="267.00" x2="584.20" y2="389.30" stroke="#3a3434" stroke-width="1.3" />
<line x1="594.70" y1="267.00" x2="594.70" y2="340.00" stroke="#aaa" stroke-width="2.2" />
<line x1="596.00" y1="267.00" x2="596.00" y2="332.30" stroke="#3a3434" stroke-width="1.1" />
<line x1="596.00" y1="332.30" x2="704.50" y2="332.30" stroke="#3a3434" stroke-width="1.3" />
<rect x="596.00" y="277.00" width="4.00" height="10.00" rx="0" fill="none" stroke="#3a3434" stroke-width="1.0" />
<rect x="596.00" y="322.00" width="4.00" height="8.50" rx="0" fill="none" stroke="#3a3434" stroke-width="1.0" />
<rect x="608.30" y="332.30" width="5.00" height="9.50" rx="0" fill="#b5b0b0" stroke="#3a3434" stroke-width="1.0" />
<line x1="573.00" y1="341.70" x2="744.00" y2="341.70" stroke="#3a3434" stroke-width="1.4" />
<line x1="700.40" y1="303.30" x2="700.40" y2="340.00" stroke="#3a3434" stroke-width="1.2" />
<line x1="705.30" y1="303.30" x2="705.30" y2="340.00" stroke="#3a3434" stroke-width="1.2" />
<rect x="701.00" y="303.30" width="3.60" height="37.00" rx="0" fill="#9a9494" stroke="#3a3434" stroke-width="0" />
<line x1="741.50" y1="267.50" x2="741.50" y2="340.00" stroke="#999" stroke-width="1.3" />
<line x1="744.00" y1="267.50" x2="744.00" y2="340.00" stroke="#3a3434" stroke-width="1.3" />
<rect x="709.70" y="266.80" width="13.00" height="2.40" rx="0" fill="#3a3434" stroke="#3a3434" stroke-width="0" />
<line x1="746.70" y1="276.00" x2="746.70" y2="332.00" stroke="#3a3434" stroke-width="1.8" />
<rect x="741.50" y="288.00" width="5.50" height="31.00" rx="2.5" fill="#fff" stroke="#3a3434" stroke-width="1.3" />
<rect x="746.70" y="278.00" width="6.30" height="52.00" rx="0" fill="#fff" stroke="#3a3434" stroke-width="1.0" />
<rect x="753.00" y="276.70" width="19.00" height="55.00" rx="2.5" fill="#fff" stroke="#3a3434" stroke-width="1.4" />
<line x1="753.00" y1="282.90" x2="772.00" y2="282.90" stroke="#3a3434" stroke-width="1.2" />
<line x1="753.00" y1="303.30" x2="772.00" y2="303.30" stroke="#3a3434" stroke-width="1.2" />
<line x1="753.00" y1="327.40" x2="772.00" y2="327.40" stroke="#3a3434" stroke-width="1.2" />
<line x1="746.70" y1="285.00" x2="753.00" y2="285.00" stroke="#3a3434" stroke-width="1.0" />
<line x1="746.70" y1="303.30" x2="753.00" y2="303.30" stroke="#3a3434" stroke-width="1.0" />
<line x1="746.70" y1="322.00" x2="753.00" y2="322.00" stroke="#3a3434" stroke-width="1.0" />
<line x1="611.00" y1="342.00" x2="611.00" y2="370.80" stroke="#3a3434" stroke-width="1.2" />
<line x1="693.00" y1="333.00" x2="693.00" y2="370.80" stroke="#3a3434" stroke-width="1.2" />
<line x1="611.00" y1="370.80" x2="634.00" y2="370.80" stroke="#3a3434" stroke-width="1.25" />
<line x1="675.50" y1="370.80" x2="693.50" y2="370.80" stroke="#3a3434" stroke-width="1.25" />
<text x="654.6" y="375.2" font-size="23" text-anchor="middle" font-weight="normal" fill="#2f2a2a" textLength="39.5" lengthAdjust="spacingAndGlyphs"  >190</text>
<line x1="705.00" y1="342.00" x2="705.00" y2="389.30" stroke="#3a3434" stroke-width="1.2" />
<line x1="500.00" y1="389.30" x2="522.50" y2="389.30" stroke="#3a3434" stroke-width="1.25" />
<line x1="562.50" y1="389.30" x2="584.20" y2="389.30" stroke="#3a3434" stroke-width="1.25" />
<text x="542.7" y="396" font-size="24" text-anchor="middle" font-weight="normal" fill="#2f2a2a" textLength="37.5" lengthAdjust="spacingAndGlyphs"  >193</text>
<line x1="584.20" y1="389.30" x2="629.00" y2="389.30" stroke="#3a3434" stroke-width="1.25" />
<line x1="669.50" y1="389.30" x2="705.00" y2="389.30" stroke="#3a3434" stroke-width="1.25" />
<text x="649.2" y="396" font-size="24" text-anchor="middle" font-weight="normal" fill="#2f2a2a" textLength="38.5" lengthAdjust="spacingAndGlyphs"  >277</text>
<line x1="772.00" y1="329.00" x2="772.00" y2="408.00" stroke="#3a3434" stroke-width="1.2" />
<line x1="500.00" y1="407.60" x2="619.00" y2="407.60" stroke="#3a3434" stroke-width="1.25" />
<line x1="660.00" y1="407.60" x2="772.00" y2="407.60" stroke="#3a3434" stroke-width="1.25" />
<text x="639.4" y="417.8" font-size="24" text-anchor="middle" font-weight="normal" fill="#2f2a2a" textLength="38.5" lengthAdjust="spacingAndGlyphs"  >621</text>
<line x1="747.30" y1="332.00" x2="747.30" y2="352.00" stroke="#3a3434" stroke-width="1.1" />
<line x1="747.30" y1="352.00" x2="752.00" y2="352.00" stroke="#3a3434" stroke-width="1.1" />
<text x="761.5" y="357" font-size="22" text-anchor="middle" font-weight="normal" fill="#2f2a2a" textLength="19" lengthAdjust="spacingAndGlyphs"  >56</text>
<line x1="589.70" y1="447.70" x2="589.70" y2="682.50" stroke="#3a3434" stroke-width="1.4" />
<line x1="589.70" y1="447.40" x2="664.00" y2="447.40" stroke="#3a3434" stroke-width="1.25" />
<line x1="706.00" y1="447.40" x2="775.80" y2="447.40" stroke="#3a3434" stroke-width="1.25" />
<line x1="775.80" y1="447.40" x2="775.80" y2="578.00" stroke="#777" stroke-width="1.25" />
<text x="685" y="452" font-size="22.5" text-anchor="middle" font-weight="normal" fill="#2f2a2a" textLength="39.5" lengthAdjust="spacingAndGlyphs"  >428</text>
<line x1="589.70" y1="464.40" x2="655.00" y2="464.40" stroke="#3a3434" stroke-width="1.25" />
<line x1="698.00" y1="464.40" x2="752.00" y2="464.40" stroke="#3a3434" stroke-width="1.25" />
<line x1="752.00" y1="464.40" x2="752.00" y2="509.00" stroke="#888" stroke-width="1.25" />
<text x="677.3" y="473.9" font-size="26" text-anchor="middle" font-weight="normal" fill="#2f2a2a" textLength="40" lengthAdjust="spacingAndGlyphs"  >372</text>
<line x1="589.70" y1="480.20" x2="634.00" y2="480.20" stroke="#3a3434" stroke-width="1.25" />
<line x1="677.00" y1="480.20" x2="709.50" y2="480.20" stroke="#3a3434" stroke-width="1.25" />
<line x1="709.50" y1="480.20" x2="709.50" y2="496.00" stroke="#3a3434" stroke-width="1.25" />
<text x="656.1" y="490.8" font-size="26" text-anchor="middle" font-weight="normal" fill="#2f2a2a" textLength="39.5" lengthAdjust="spacingAndGlyphs"  >275</text>
<line x1="589.70" y1="495.60" x2="851.80" y2="495.60" stroke="#3a3434" stroke-width="1.6" />
<line x1="851.50" y1="495.60" x2="851.50" y2="560.00" stroke="#3a3434" stroke-width="1.25" />
<line x1="851.50" y1="604.00" x2="851.50" y2="682.40" stroke="#3a3434" stroke-width="1.25" />
<line x1="589.70" y1="682.40" x2="851.50" y2="682.40" stroke="#3a3434" stroke-width="1.6" />
<text x="859.5" y="582.5" font-size="26.5" text-anchor="middle" font-weight="normal" fill="#2f2a2a" textLength="39.5" lengthAdjust="spacingAndGlyphs" transform="rotate(-90 859.5 582.5)" >430</text>
<line x1="688.00" y1="503.20" x2="825.50" y2="503.20" stroke="#3a3434" stroke-width="1.25" />
<line x1="825.50" y1="503.20" x2="825.50" y2="560.00" stroke="#3a3434" stroke-width="1.25" />
<line x1="825.50" y1="599.00" x2="825.50" y2="676.00" stroke="#3a3434" stroke-width="1.25" />
<line x1="687.60" y1="676.00" x2="825.50" y2="676.00" stroke="#3a3434" stroke-width="1.25" />
<text x="832.7" y="580.8" font-size="24" text-anchor="middle" font-weight="normal" fill="#2f2a2a" textLength="36.5" lengthAdjust="spacingAndGlyphs" transform="rotate(-90 832.7 580.8)" >395</text>
<rect x="589.70" y="495.60" width="119.80" height="55.00" rx="0" fill="none" stroke="#3a3434" stroke-width="1.8" />
<path d="M615.8,505.4 L678,505.4 L684.5,513.2 L700.7,513.2 L700.7,540.4 L598.2,540.4 L598.2,513.2 L608.6,513.2 Z" fill="none" stroke="#3a3434" stroke-width="2.2" />
<rect x="604.8" y="497.6" width="5" height="11.7" rx="2.5" fill="#fff" stroke="#3a3434" stroke-width="1"/>
<rect x="683.3" y="497.6" width="5" height="11.7" rx="2.5" fill="#fff" stroke="#3a3434" stroke-width="1"/>
<rect x="637.00" y="519.50" width="9.40" height="5.40" rx="1.5" fill="#3a3434" stroke="#3a3434" stroke-width="0" />
<rect x="637.00" y="527.60" width="9.40" height="5.30" rx="1.5" fill="#3a3434" stroke="#3a3434" stroke-width="0" />
<line x1="648.50" y1="526.20" x2="655.50" y2="526.20" stroke="#3a3434" stroke-width="1.4" />
<rect x="656.00" y="521.60" width="13.00" height="9.20" rx="2.5" fill="#3e3838" stroke="#3a3434" stroke-width="0" />
<line x1="589.70" y1="584.00" x2="745.00" y2="584.00" stroke="#3a3434" stroke-width="1.3" />
<line x1="589.70" y1="595.20" x2="745.00" y2="595.20" stroke="#3a3434" stroke-width="1.3" />
<rect x="589.70" y="628.60" width="119.80" height="53.90" rx="0" fill="none" stroke="#3a3434" stroke-width="1.8" />
<path d="M598.2,638 L700.7,638 L700.7,666.5 L687,666.5 L681,674.8 L612,674.8 L606,666.5 L598.2,666.5 Z" fill="none" stroke="#3a3434" stroke-width="2.2" />
<rect x="605.0" y="668" width="5" height="13" rx="2.5" fill="#fff" stroke="#3a3434" stroke-width="1"/>
<rect x="683.5" y="668" width="5" height="13" rx="2.5" fill="#fff" stroke="#3a3434" stroke-width="1"/>
<rect x="633.20" y="652.00" width="6.10" height="11.20" rx="2" fill="#454040" stroke="#3a3434" stroke-width="0" />
<line x1="639.00" y1="658.40" x2="645.50" y2="658.40" stroke="#3a3434" stroke-width="1.8" />
<rect x="645.30" y="652.00" width="5.70" height="11.20" rx="2" fill="#454040" stroke="#3a3434" stroke-width="0" />
<line x1="607.50" y1="681.00" x2="607.50" y2="693.50" stroke="#3a3434" stroke-width="1.25" />
<line x1="686.00" y1="681.00" x2="686.00" y2="696.00" stroke="#3a3434" stroke-width="1.25" />
<line x1="607.50" y1="693.50" x2="631.00" y2="693.50" stroke="#3a3434" stroke-width="1.25" />
<line x1="664.00" y1="693.50" x2="686.00" y2="693.50" stroke="#3a3434" stroke-width="1.25" />
<text x="647.5" y="703" font-size="22" text-anchor="middle" font-weight="normal" fill="#2f2a2a" textLength="31.5" lengthAdjust="spacingAndGlyphs"  >180</text>
<text x="698" y="703" font-size="22" text-anchor="middle" font-weight="normal" fill="#2f2a2a" textLength="20.5" lengthAdjust="spacingAndGlyphs"  >55</text>
<line x1="709.50" y1="682.00" x2="709.50" y2="690.00" stroke="#3a3434" stroke-width="1" />
<line x1="709.50" y1="512.60" x2="745.00" y2="512.60" stroke="#999" stroke-width="1.2" />
<line x1="709.50" y1="664.80" x2="745.00" y2="664.80" stroke="#777" stroke-width="1.2" />
<rect x="744.80" y="508.70" width="8.20" height="161.90" rx="4" fill="#fff" stroke="#3a3434" stroke-width="1.5" />
<rect x="753.00" y="512.00" width="5.70" height="75.80" rx="2" fill="#fff" stroke="#3a3434" stroke-width="1.4" />
<rect x="753.00" y="590.30" width="5.70" height="77.70" rx="2" fill="#fff" stroke="#3a3434" stroke-width="1.4" />
<line x1="748.90" y1="512.00" x2="748.90" y2="667.00" stroke="#888" stroke-width="0.9" />
<path d="M758.7,522.3 H775.6 V577.9 H758.7" fill="none" stroke="#777" stroke-width="1.3" />
<path d="M758.7,601.4 H775.6 V657 H758.7" fill="none" stroke="#777" stroke-width="1.3" />
<line x1="775.60" y1="550.70" x2="802.70" y2="550.70" stroke="#777" stroke-width="1.25" />
<line x1="775.60" y1="628.60" x2="802.70" y2="628.60" stroke="#777" stroke-width="1.25" />
<line x1="802.70" y1="550.70" x2="802.70" y2="567.00" stroke="#3a3434" stroke-width="1.25" />
<line x1="802.70" y1="607.00" x2="802.70" y2="628.60" stroke="#3a3434" stroke-width="1.25" />
<text x="810.7" y="588.5" font-size="25" text-anchor="middle" font-weight="normal" fill="#2f2a2a" textLength="36" lengthAdjust="spacingAndGlyphs" transform="rotate(-90 810.7 588.5)" >180</text>
<line x1="551.00" y1="647.00" x2="603.00" y2="670.00" stroke="#3a3434" stroke-width="1.0" />
<text x="461.5" y="602.5" font-size="20" text-anchor="start" font-weight="normal" fill="#2f2a2a" textLength="101" lengthAdjust="spacingAndGlyphs" transform="rotate(32 461.5 602.5)" >4–11*20L</text>
<path d="M2,3 L2,15 Q2,18 0.5,19 M2,3 H7 V18 Q7,19 6,19 M2,8 H7 M2,12.5 H7 M8.5,2.5 H19.5 M9.5,5 H18.5 V9.5 H9.5 Z M12.5,5 V9.5 M15.5,5 V9.5 M8,12 H20 M13.5,10 L11,15 Q14,17 19,19.5 M17,12.5 Q15,17.5 9,19.5" transform="translate(469.5 620) rotate(32) scale(1.0)" fill="none" stroke="#2f2a2a" stroke-width="1.6" stroke-linecap="round"/>
<path d="M1,3.5 H10 M0.5,9 H10.5 M4,3.5 V10 Q4,16 1,19 M7.5,3.5 V19.5 M18,2 Q16,4.5 12.5,6.5 M18.5,7.5 Q16,10.5 12,12.5 M19.5,13 Q16.5,17 11,19.5" transform="translate(490 632.3) rotate(32) scale(1.0)" fill="none" stroke="#2f2a2a" stroke-width="1.6" stroke-linecap="round"/>
<path d="M1.5,3 H9 Q7,5 5.5,7 M5.5,7 V17.5 Q5.5,19.5 3,19 M0.5,11 H10 M13,1.5 V15.5 Q13,18.5 16,18.5 H19.5 V15" transform="translate(509.2 644) rotate(32) scale(1.0)" fill="none" stroke="#2f2a2a" stroke-width="1.6" stroke-linecap="round"/>
<text x="124" y="598" font-size="56" text-anchor="start" font-weight="bold" fill="#2e2624"   letter-spacing="1.8">RB-1515</text>
</svg></body></html>
